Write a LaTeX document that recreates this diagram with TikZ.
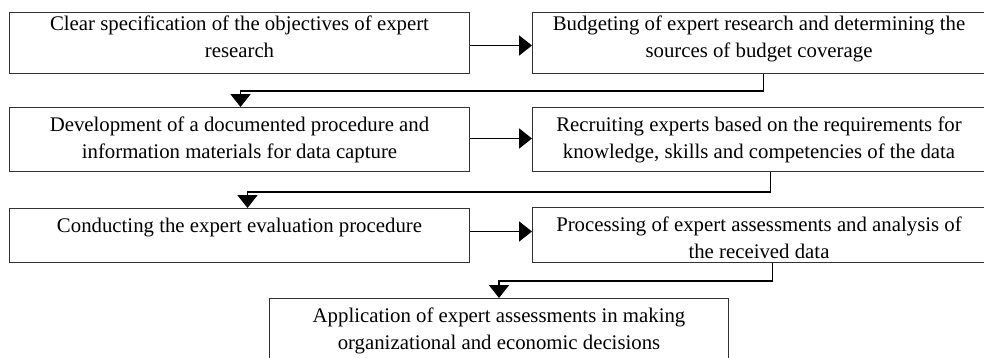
\documentclass[tikz,border=0pt]{standalone}
\usepackage{fontspec}
\setmainfont{Liberation Serif}
\usetikzlibrary{arrows.meta,calc}
\tikzset{
  box/.style={draw=black!80, line width=1pt, rectangle, inner sep=0pt, anchor=north west},
  txt/.style={anchor=north, inner sep=0pt, align=center, font=\fontsize{20.8}{26.8}\selectfont},
  conn/.style={draw=black, line width=1.9pt, -{Triangle[length=13pt,width=20pt]}}
}
\begin{document}
\begin{tikzpicture}[x=1pt,y=-1pt]
\useasboundingbox (0,0) rectangle (984,357);
\clip (0,0) rectangle (984,357);
% boxes
\node[box, minimum width=460pt, minimum height=61pt] (b1) at (9,12) {};
\node[box, minimum width=453pt, minimum height=61pt] (b2) at (532,12) {};
\node[box, minimum width=460pt, minimum height=64pt] (b3) at (9,107) {};
\node[box, minimum width=453pt, minimum height=64pt] (b4) at (532,107) {};
\node[box, minimum width=460pt, minimum height=54pt] (b5) at (9,208) {};
\node[box, minimum width=453pt, minimum height=55pt] (b6) at (532,207) {};
\node[box, minimum width=459pt, minimum height=62pt] (b7) at (269,298) {};
% texts
\node[txt, yshift=-3.5pt] (t1) at (b1.north) {Clear specification of the objectives of expert\\research};
\node[txt, yshift=-3.5pt] (t2) at (b2.north) {Budgeting of expert research and determining the\\sources of budget coverage};
\node[txt, yshift=-10pt] (t3) at (b3.north) {Development of a documented procedure and\\information materials for data capture};
\node[txt, yshift=-10pt] (t4) at (b4.north) {Recruiting experts based on the requirements for\\knowledge, skills and competencies of the data};
\node[txt, yshift=-10pt] (t5) at (b5.north) {Conducting the expert evaluation procedure};
\node[txt, yshift=-10pt] (t6) at (b6.north) {Processing of expert assessments and analysis of\\the received data};
\node[txt, yshift=-10pt] (t7) at (b7.north) {Application of expert assessments in making\\organizational and economic decisions};
% horizontal arrows
\draw[conn] ([yshift=-2.5pt]b1.east) -- ([yshift=-2.5pt]b1.east -| b2.west);
\draw[conn] ([yshift=1pt]b3.east) -- ([yshift=1pt]b3.east -| b4.west);
\draw[conn] ([yshift=4pt]b5.east) -- ([yshift=4pt]b5.east -| b6.west);
% elbow connectors
\draw[conn] ([xshift=4.5pt]b2.south) -- ++(0,17) -| ([xshift=1pt]b3.north);
\draw[conn] ([xshift=11.5pt]b4.south) -- ++(0,20) -| ([xshift=8pt]b5.north);
\draw[conn] ([xshift=13.5pt]b6.south) -- ++(0,18) -| (b7.north);
\end{tikzpicture}
\end{document}
